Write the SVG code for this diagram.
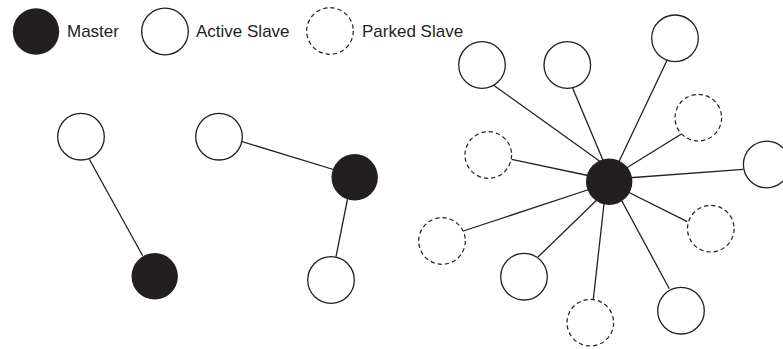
<svg xmlns="http://www.w3.org/2000/svg" width="783" height="349" viewBox="0 0 783 349">
  <style>
    .link { stroke: #231f20; stroke-width: 1.3; fill: none; }
    .master { fill: #231f20; stroke: none; }
    .active { fill: #ffffff; stroke: #231f20; stroke-width: 1.3; }
    .parked { fill: #ffffff; stroke: #231f20; stroke-width: 1.2; stroke-dasharray: 4.3 3; }
    .label { font-family: "Liberation Sans", Arial, sans-serif; font-size: 17px; fill: #231f20; }
  </style>
  <rect width="783" height="349" fill="#ffffff"/>

  <!-- legend -->
  <g id="legend">
    <circle class="master" cx="36" cy="31.5" r="23.2"/>
    <text class="label" x="67" y="37">Master</text>
    <circle class="active" cx="165" cy="31.5" r="23.3"/>
    <text class="label" x="196" y="37">Active Slave</text>
    <circle class="parked" cx="330" cy="31" r="23.3"/>
    <text class="label" x="362" y="37">Parked Slave</text>
  </g>

  <!-- connectors -->
  <g id="connectors">
    <line class="link" x1="89.3" y1="159.3" x2="142.7" y2="255.7"/>
    <line class="link" x1="242.3" y1="141.7" x2="340" y2="171.5"/>
    <line class="link" x1="348.3" y1="195" x2="336" y2="256.7"/>

    <line class="link" x1="493.3" y1="85" x2="605" y2="165"/>
    <line class="link" x1="572.7" y1="88.3" x2="605" y2="165"/>
    <line class="link" x1="666.7" y1="61" x2="615" y2="170"/>
    <line class="link" x1="681" y1="134.3" x2="620" y2="172"/>
    <line class="link" x1="511.7" y1="159.3" x2="595" y2="177"/>
    <line class="link" x1="743.3" y1="169.3" x2="620" y2="178.5"/>
    <line class="link" x1="463.3" y1="231" x2="595" y2="187.5"/>
    <line class="link" x1="537.7" y1="257.3" x2="603" y2="194"/>
    <line class="link" x1="593.3" y1="299.3" x2="605" y2="195"/>
    <line class="link" x1="669.3" y1="288.7" x2="617" y2="192"/>
    <line class="link" x1="687.3" y1="221.7" x2="620" y2="188"/>
  </g>

  <!-- piconet 1 -->
  <g id="p1-slave"><circle class="active" cx="81" cy="136.7" r="23.3"/></g>
  <g id="p1-master"><circle class="master" cx="154.7" cy="276.3" r="23.2"/></g>

  <!-- piconet 2 -->
  <g id="p2-slave-a"><circle class="active" cx="219" cy="136.7" r="23.3"/></g>
  <g id="p2-master"><circle class="master" cx="354.7" cy="177.3" r="23.2"/></g>
  <g id="p2-slave-b"><circle class="active" cx="331" cy="280" r="23.3"/></g>

  <!-- piconet 3 -->
  <g id="p3-active-1"><circle class="active" cx="482" cy="65" r="23.3"/></g>
  <g id="p3-active-2"><circle class="active" cx="567.3" cy="65" r="23.3"/></g>
  <g id="p3-active-3"><circle class="active" cx="675" cy="38.3" r="23.3"/></g>
  <g id="p3-parked-1"><circle class="parked" cx="698.3" cy="117.7" r="23.3"/></g>
  <g id="p3-parked-2"><circle class="parked" cx="488.3" cy="155" r="23.3"/></g>
  <g id="p3-active-4"><circle class="active" cx="766.7" cy="164.5" r="23.3"/></g>
  <g id="p3-parked-3"><circle class="parked" cx="442" cy="241" r="23.3"/></g>
  <g id="p3-active-5"><circle class="active" cx="524" cy="276.7" r="23.3"/></g>
  <g id="p3-parked-4"><circle class="parked" cx="590.3" cy="322.7" r="23.3"/></g>
  <g id="p3-active-6"><circle class="active" cx="681" cy="310.7" r="23.3"/></g>
  <g id="p3-parked-5"><circle class="parked" cx="710.8" cy="228.7" r="23.3"/></g>
  <g id="p3-master"><circle class="master" cx="609.2" cy="181.7" r="23.2"/></g>
</svg>
